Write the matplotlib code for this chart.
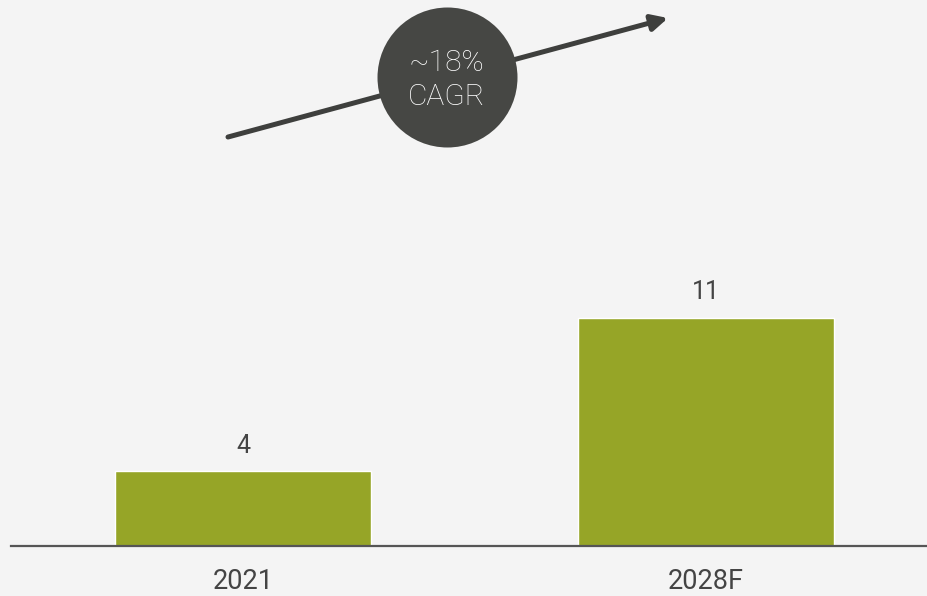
import matplotlib
matplotlib.use("Agg")
import matplotlib.pyplot as plt

plt.rcParams["font.family"] = ["Roboto", "DejaVu Sans"]

# data
years = ["2021", "2028F"]
values = [3.6, 11.0]
value_labels = ["4", "11"]
cagr_label = ["~18%", "CAGR"]

BG = "#f4f4f4"
BAR = "#96a527"
DARK = "#464744"
TEXT = "#444444"

fig = plt.figure(figsize=(9.28, 5.96), dpi=100, facecolor=BG)
ax = fig.add_axes([11 / 928, 50 / 596, 917 / 928, 546 / 596])
ax.set_facecolor(BG)

x = list(range(len(years)))
ax.bar(x, values, width=0.553, color=BAR, edgecolor="white", linewidth=1.0, zorder=2)

ax.set_xlim(-0.5011, 1.4795)
ax.set_ylim(0, 26.34)

for xi, v, lab in zip(x, values, value_labels):
    ax.annotate(lab, (xi, v), xytext=(0, 13.5), textcoords="offset points",
                ha="center", va="baseline", fontsize=18, color=TEXT)

# baseline only
for s in ["top", "right", "left"]:
    ax.spines[s].set_visible(False)
ax.spines["bottom"].set_color("#555555")
ax.spines["bottom"].set_linewidth(1.6)
ax.spines["bottom"].set_zorder(3)

ax.set_yticks([])
ax.set_xticks(x)
ax.set_xticklabels(years, fontsize=19.5, color=TEXT)
ax.tick_params(axis="x", length=0, pad=16)

# growth arrow with the CAGR bubble
ax.annotate("", xy=(0.918, 25.47), xytext=(-0.0324, 19.73),
            arrowprops=dict(arrowstyle="-|>", lw=3.6, color="#3e3f3d",
                            mutation_scale=24, shrinkA=0, shrinkB=0),
            annotation_clip=False, zorder=4)
ax.scatter([0.4406], [22.63], s=10160, color=DARK, zorder=5, clip_on=False,
           linewidths=0)
ax.text(0.4406, 22.92, cagr_label[0], ha="center", va="baseline",
        fontsize=21.5, color="white", fontweight="light", zorder=6)
ax.text(0.4406, 21.28, cagr_label[1], ha="center", va="baseline",
        fontsize=21.5, color="white", fontweight="light", zorder=6)

fig.savefig("out.png", dpi=100, facecolor=BG)
